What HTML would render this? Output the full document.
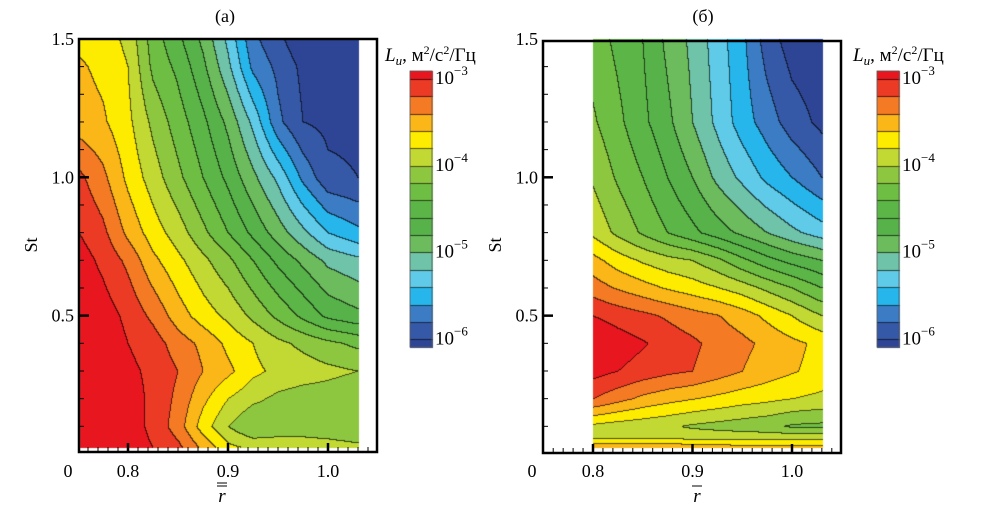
<!DOCTYPE html>
<html><head><meta charset="utf-8">
<style>
body{margin:0;background:#fff;width:999px;height:528px;overflow:hidden;position:relative;font-family:"Liberation Serif",serif;}
canvas{position:absolute;left:0;top:0;}
svg{position:absolute;left:0;top:0;font-family:"Liberation Serif",serif;}
svg text{font-family:"Liberation Serif",serif;}
</style></head>
<body>
<canvas id="cv" width="999" height="528"></canvas>
<svg id="sv" width="999" height="528" font-family="Liberation Serif, serif"></svg>
<script>
// ---- data (log10 of L_u) ----
const levels=[-3.05,-3.25,-3.45,-3.65,-3.85,-4.05,-4.25,-4.45,-4.65,-4.85,-5.05,-5.25,-5.45,-5.65,-5.85,-6.05];
const bandColors=["#e8161f","#ec3b25","#f47a24","#fbb617","#fdec00","#c2d833","#8dc63f","#6fbe44","#5cb547","#57b24a","#6cbb5c","#6ec3a9","#5fcbe8","#27b6ec","#3b7cc4","#3558a7","#2e4596"];
const rA=[0.751,0.775,0.8,0.825,0.85,0.875,0.9,0.925,0.95,0.975,1.0,1.03];
const stA=[0.025,0.1,0.2,0.3,0.4,0.5,0.7,0.8,1.0,1.2,1.4,1.5];
const valA=[
[-2.9,-2.9,-2.95,-3.05,-3.2,-3.5,-3.8,-3.9,-3.9,-3.95,-3.95,-4.0],
[-2.9,-2.9,-2.95,-3.1,-3.35,-3.75,-4.05,-4.25,-4.2,-4.15,-4.2,-4.25],
[-2.9,-2.9,-2.95,-3.1,-3.3,-3.6,-3.85,-4.0,-4.1,-4.15,-4.15,-4.2],
[-2.9,-2.9,-3.0,-3.1,-3.25,-3.45,-3.6,-3.8,-3.9,-3.95,-4.0,-4.05],
[-2.9,-2.9,-3.05,-3.15,-3.35,-3.5,-3.7,-3.85,-4.0,-4.1,-4.2,-4.3],
[-2.9,-2.95,-3.1,-3.3,-3.55,-3.75,-3.9,-4.1,-4.3,-4.5,-4.7,-4.8],
[-2.95,-3.1,-3.3,-3.6,-3.8,-4.0,-4.2,-4.45,-4.7,-4.9,-5.1,-5.2],
[-3.05,-3.2,-3.5,-3.75,-3.95,-4.2,-4.45,-4.7,-4.95,-5.2,-5.45,-5.6],
[-3.2,-3.4,-3.7,-3.95,-4.2,-4.45,-4.7,-5.0,-5.3,-5.7,-6.0,-6.05],
[-3.55,-3.62,-3.8,-4.1,-4.35,-4.6,-4.9,-5.3,-5.8,-6.05,-6.1,-6.1],
[-3.62,-3.7,-3.85,-4.3,-4.5,-4.8,-5.2,-5.7,-5.9,-6.1,-6.2,-6.2],
[-3.7,-3.75,-3.9,-4.35,-4.6,-4.9,-5.3,-5.8,-6.0,-6.2,-6.2,-6.2]];
const rB=[0.8,0.825,0.85,0.875,0.9,0.925,0.95,0.975,1.0,1.03];
const stB=[0.025,0.06,0.1,0.2,0.3,0.4,0.5,0.6,0.7,0.8,1.0,1.2,1.5];
const valB=[
[-3.5,-3.5,-3.5,-3.5,-3.55,-3.55,-3.6,-3.6,-3.6,-3.6],
[-3.9,-3.9,-3.9,-3.9,-3.92,-3.92,-3.92,-3.92,-3.92,-3.92],
[-3.9,-3.95,-3.98,-4.02,-4.08,-4.12,-4.16,-4.2,-4.28,-4.3],
[-3.25,-3.38,-3.5,-3.58,-3.64,-3.7,-3.76,-3.8,-3.85,-3.9],
[-2.97,-3.05,-3.13,-3.2,-3.25,-3.35,-3.45,-3.55,-3.63,-3.72],
[-2.85,-2.95,-3.03,-3.13,-3.21,-3.32,-3.4,-3.5,-3.6,-3.7],
[-3.05,-3.13,-3.2,-3.28,-3.37,-3.44,-3.55,-3.7,-3.85,-4.05],
[-3.35,-3.47,-3.57,-3.67,-3.75,-3.84,-3.95,-4.1,-4.25,-4.45],
[-3.58,-3.75,-3.88,-3.98,-4.05,-4.2,-4.4,-4.58,-4.72,-4.85],
[-3.9,-4.1,-4.28,-4.45,-4.6,-4.75,-4.9,-5.05,-5.2,-5.35],
[-4.08,-4.28,-4.45,-4.65,-4.85,-5.1,-5.3,-5.5,-5.65,-5.85],
[-4.22,-4.4,-4.6,-4.8,-5.05,-5.3,-5.55,-5.75,-5.95,-6.1],
[-4.35,-4.5,-4.65,-4.9,-5.1,-5.35,-5.6,-5.95,-6.15,-6.2]];
const xTickVals=[0.8,0.9,1.0];
const xTickLabels=["0.8","0.9","1.0"];
const yTickVals=[0.5,1.0,1.5];
const yTickLabels=["0.5","1.0","1.5"];
const cbTickVals=[-3,-4,-5,-6];
const cbTickLabels=["3","4","5","6"];

// ---- panels geometry ----
const panels=[
 {name:"a",r:rA,st:stA,v:valA,x0:128,kx:1000,box:[79,39,377,452],title:"(a)",tx:225,cb:410,lx:385,bar:2},
 {name:"b",r:rB,st:stB,v:valB,x0:593,kx:995,box:[543,41,841,453],title:"(б)",tx:703,cb:877,lx:853,bar:1}];
const yS=s=>454-s*276.7;
const cbY=v=>75+(-3-v)*86.8;

function interp(arr,val){let i=0;while(i<arr.length-2&&val>arr[i+1])i++;let t=(val-arr[i])/(arr[i+1]-arr[i]);t=Math.max(0,Math.min(1,t));return [i,t];}
function band(v){let k=0;while(k<levels.length&&v<levels[k])k++;return k;}
function hex(c){return [parseInt(c.substr(1,2),16),parseInt(c.substr(3,2),16),parseInt(c.substr(5,2),16)];}
const rgb=bandColors.map(hex);

const cv=document.getElementById('cv'),ctx=cv.getContext('2d');
const img=ctx.createImageData(999,528);const D=img.data;
for(let i=0;i<D.length;i+=4){D[i]=D[i+1]=D[i+2]=255;D[i+3]=255;}
panels.forEach(p=>{
 const xs=r=>p.x0+(r-0.8)*p.kx;
 const X0=Math.max(Math.round(xs(p.r[0])),p.box[0]+1),X1=Math.round(xs(p.r[p.r.length-1]));
 const Y0=Math.round(yS(p.st[p.st.length-1])),Y1=Math.round(yS(p.st[0]));
 const W=X1-X0+1,H=Y1-Y0+1;const B=new Int8Array(W*H);
 for(let y=0;y<H;y++){const s=(454-(Y0+y))/276.7;const [j,ty]=interp(p.st,s);
  for(let x=0;x<W;x++){const r=(X0+x-p.x0)/p.kx+0.8;const [i,tx]=interp(p.r,r);
   const v=(1-ty)*((1-tx)*p.v[j][i]+tx*p.v[j][i+1])+ty*((1-tx)*p.v[j+1][i]+tx*p.v[j+1][i+1]);
   B[y*W+x]=band(v);}}
 for(let y=0;y<H;y++)for(let x=0;x<W;x++){const b=B[y*W+x];let c=rgb[b];
  const edge=(x<W-1&&B[y*W+x+1]!==b)||(y<H-1&&B[(y+1)*W+x]!==b);
  if(edge)c=[c[0]*0.35,c[1]*0.35,c[2]*0.35];
  const o=((Y0+y)*999+X0+x)*4;D[o]=c[0];D[o+1]=c[1];D[o+2]=c[2];}
 // colorbar
 for(let y=71;y<=347;y++){const v=-3-(y-75)/86.8;const b=band(v);const bb=band(-3-(y+1-75)/86.8);
  for(let x=p.cb;x<=p.cb+22;x++){let c=rgb[b];if(bb!==b&&y<347)c=[c[0]*0.35,c[1]*0.35,c[2]*0.35];const o=(y*999+x)*4;D[o]=c[0];D[o+1]=c[1];D[o+2]=c[2];}}
});
ctx.putImageData(img,0,0);

// ---- SVG overlay ----
const NS="http://www.w3.org/2000/svg",sv=document.getElementById('sv');
const FF='"Liberation Serif", serif';
function el(t,a,txt){const e=document.createElementNS(NS,t);for(const k in a)e.setAttribute(k,a[k]);if(t==='text')e.style.fontFamily=FF;if(txt!==undefined)e.textContent=txt;sv.appendChild(e);return e;}
panels.forEach(p=>{
 const xs=r=>p.x0+(r-0.8)*p.kx;const [L,T,R,Bt]=p.box;
 const bx=el('rect',{x:L,y:T,width:R-L,height:Bt-T,fill:'none',stroke:'#000','stroke-width':2.5});
 
 for(let k=76;k<=104;k++){const r=k/100;const x=xs(r);if(x<=L+1||x>=R-1)continue;const maj=k%10===0;
  const t=el('line',{x1:x,x2:x,y1:Bt,y2:Bt-(maj?9:5),stroke:'#000','stroke-width':maj?2.5:1});
  }
 for(let k=1;k<=14;k++){const s=k/10;const y=yS(s);const maj=k%5===0;
  const t=el('line',{x1:L,x2:L+(maj?10:5),y1:y,y2:y,stroke:'#000','stroke-width':maj?2.5:1});
  }
 xTickVals.forEach((v,i)=>{const t=el('text',{x:xs(v),y:477,'font-size':18,'text-anchor':'middle'},xTickLabels[i]);
  });
 const z=el('text',{x:L-11,y:477,'font-size':18,'text-anchor':'middle'},"0");
 yTickVals.forEach((v,i)=>{const t=el('text',{x:L-5,y:yS(v)+6,'font-size':18,'text-anchor':'end'},yTickLabels[i]);
  });
 const yl=el('text',{x:0,y:0,'font-size':18,'text-anchor':'middle',transform:`translate(${L-42},245) rotate(-90)`},"St");
 
 const cx=(p.name==='a')?222:697;
 const xl=el('text',{x:cx,y:502,'font-size':19,'font-style':'italic','text-anchor':'middle'},"r");
 
 for(let b=0;b<p.bar;b++){const ln=el('line',{x1:cx-5,x2:cx+5,y1:486-b*3,y2:486-b*3,stroke:'#000','stroke-width':1});}
 const tt=el('text',{x:p.tx,y:22,'font-size':18,'text-anchor':'middle'},p.title);
 
 const lt=el('text',{x:p.lx,y:61,'font-size':19});
 lt.innerHTML='<tspan font-style="italic">L</tspan><tspan font-style="italic" font-size="13" dy="4">u</tspan><tspan dy="-4">, м</tspan><tspan font-size="12" dy="-7">2</tspan><tspan dy="7">/с</tspan><tspan font-size="12" dy="-7">2</tspan><tspan dy="7">/Гц</tspan>';
 const cf=el('rect',{x:p.cb,y:71,width:22,height:276,fill:'none',stroke:'#555','stroke-width':0.8});
 
 cbTickVals.forEach((v,i)=>{const t=el('text',{x:p.cb+25,y:cbY(v)+9,'font-size':19});
  
  t.innerHTML='10<tspan font-size="13" dy="-9">−'+cbTickLabels[i]+'</tspan>';});
});
</script>
</body></html>
